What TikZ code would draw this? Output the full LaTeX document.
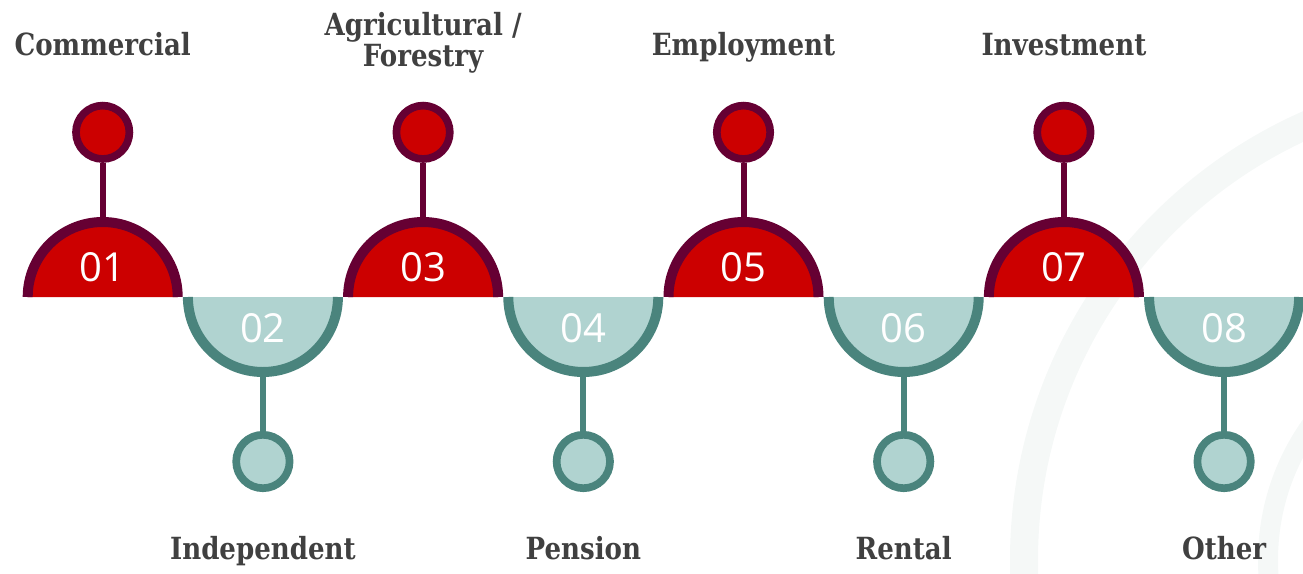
\documentclass[tikz,border=0pt]{standalone}
\usepackage{fontspec}
\newfontfamily\numfont{Open Sans}
\newfontfamily\labfont{DejaVu Serif}[FakeStretch=0.855]
\definecolor{redfill}{HTML}{CC0000}
\definecolor{redbord}{HTML}{660033}
\definecolor{tealfill}{HTML}{B0D3D0}
\definecolor{tealbord}{HTML}{4A847D}
\definecolor{labgray}{HTML}{404040}
\definecolor{wmark}{HTML}{F5F8F7}
\tikzset{
  numtext/.style={text=white, inner sep=0pt, font=\numfont\fontsize{40}{40}\selectfont},
  labtext/.style={text=labgray, inner sep=0pt, anchor=base, align=center,
    font=\labfont\bfseries\fontsize{30.5}{31}\selectfont},
  topdot/.style={circle, draw=redbord, fill=redfill, line width=7.7pt, minimum size=53.4pt, inner sep=0pt},
  botdot/.style={circle, draw=tealbord, fill=tealfill, line width=7.7pt, minimum size=53.4pt, inner sep=0pt},
  topstem/.style={draw=redbord, line width=6pt},
  botstem/.style={draw=tealbord, line width=6pt},
}
\begin{document}
\begin{tikzpicture}[x=1pt,y=-1pt]
\useasboundingbox (0,0) rectangle (1303,573);
% watermark arcs
\begin{scope}
  \clip (0,0) rectangle (1303,573);
  \draw[wmark, line width=28pt] (1500,560) circle[radius=476];
  \draw[wmark, line width=20pt] (1500,560) circle[radius=232];
\end{scope}
% top items (odd)
\foreach \i/\n/\cx in {1/01/102.7, 3/03/423.1, 5/05/743.5, 7/07/1063.9} {
  \fill[redfill] (\cx-75,297) arc[start angle=180, end angle=360, radius=75] -- cycle;
  \draw[redbord, line width=10pt] (\cx-75,297) arc[start angle=180, end angle=360, radius=75];
  \node[numtext] (n\i) at (\cx,267.5) {\n};
  \coordinate (s\i) at (\cx,218);
  \node[topdot] (d\i) at (\cx,132.3) {};
  \draw[topstem] (d\i) -- (s\i);
}
% bottom items (even)
\foreach \i/\n/\cx in {2/02/262.9, 4/04/583.3, 6/06/903.7, 8/08/1224.1} {
  \fill[tealfill] (\cx-75,297) arc[start angle=180, end angle=0, radius=75] -- cycle;
  \draw[tealbord, line width=10pt] (\cx-75,297) arc[start angle=180, end angle=0, radius=75];
  \node[numtext] (n\i) at (\cx,328) {\n};
  \coordinate (s\i) at (\cx,376);
  \node[botdot] (d\i) at (\cx,461.5) {};
  \draw[botstem] (d\i) -- (s\i);
}
% labels
\node[labtext] (l1) at (102.7,55) {Commercial};
\node[labtext] (l3) at (423.1,66.7) {Agricultural /\\Forestry};
\node[labtext] (l5) at (743.5,55) {Employment};
\node[labtext] (l7) at (1063.9,55) {Investment};
\node[labtext] (l2) at (262.9,559) {Independent};
\node[labtext] (l4) at (583.3,559) {Pension};
\node[labtext] (l6) at (903.7,559) {Rental};
\node[labtext] (l8) at (1224.1,559) {Other};
\end{tikzpicture}
\end{document}
